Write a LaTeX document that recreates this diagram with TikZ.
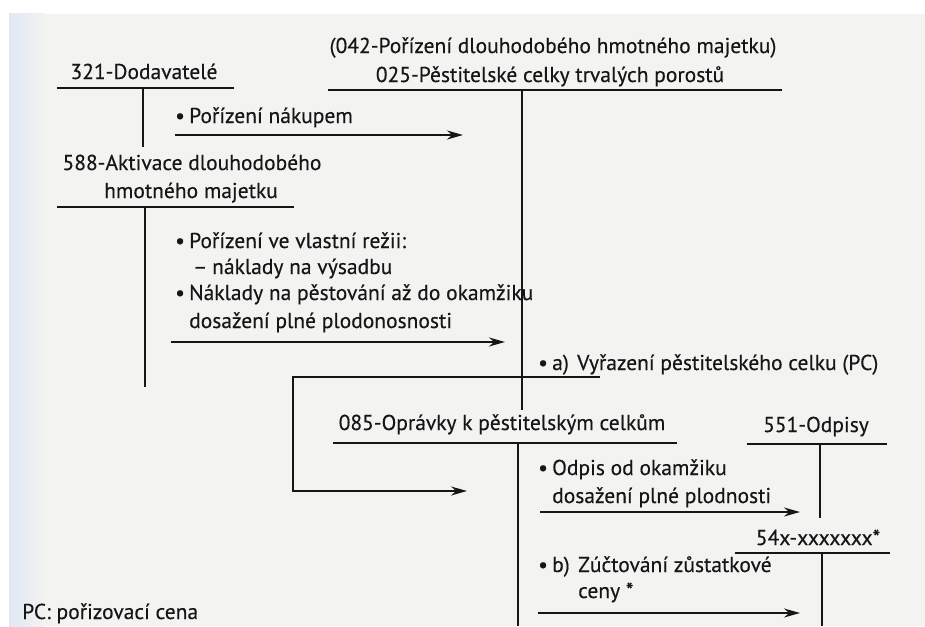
\documentclass[tikz,border=0pt]{standalone}
\usepackage{fontspec}
\setmainfont{PT Sans}
\usepackage{tikz}
\usetikzlibrary{arrows.meta,positioning}
\definecolor{pagegray}{RGB}{243,243,242}
\definecolor{edgeblue}{RGB}{224,232,243}
\definecolor{ink}{RGB}{22,22,22}
\newcommand{\bul}{\makebox[14pt][l]{•}}
\tikzstyle{arrow} = [line width=1.8pt,-{Stealth[length=16pt,width=9pt]},color=ink]
\tikzstyle{account} = [line width=1.8pt,color=ink]
\tikzstyle{lbl} = [anchor=base west,inner sep=0pt,text=ink,font=\fontsize{21.5}{26}\selectfont\addfontfeature{FakeBold=0.3}]
\tikzstyle{title} = [lbl,anchor=base]

\begin{document}
\begin{tikzpicture}[x=1pt,y=-1pt]
    % Page
    \useasboundingbox (0,0) rectangle (925,626);
    \fill[white] (0,0) rectangle (925,626);
    \fill[pagegray] (9,14) rectangle (925,626);
    \shade[left color=edgeblue, right color=pagegray] (9,14) rectangle (45,626);

    % Account titles
    \node[title] (t042) at (553,53) {(042-Pořízení dlouhodobého hmotného majetku)};
    \node[title] (t025) at (550,82) {025-Pěstitelské celky trvalých porostů};
    \node[title] (t321) at (144,79) {321-Dodavatelé};
    \node[title] (t588a) at (192,170) {588-Aktivace dlouhodobého};
    \node[title] (t588b) at (191,198) {hmotného majetku};
    \node[title] (t085) at (502,430) {085-Oprávky k pěstitelským celkům};
    \node[title] (t551) at (816,432) {551-Odpisy};
    \node[title] (t54x) at (818,545) {54x-xxxxxxx*};

    % T-accounts
    \draw[account] (57,88) -- (234,88) (143,88) -- (143,147);
    \draw[account] (328,90) -- (782,90) (522,90) -- (522,410);
    \draw[account] (57,207) -- (294,207) (145,207) -- (145,387);
    \draw[account] (333,443) -- (677,443) (518,443) -- (518,626);
    \draw[account] (747,444) -- (887,444) (820,444) -- (820,518);
    \draw[account] (735,553) -- (890,553) (822,553) -- (822,626);

    % Entries
    \node[lbl] (nakup) at (175,123) {\bul Pořízení nákupem};
    \node[lbl] (rezie) at (175,248) {\bul Pořízení ve vlastní režii:};
    \node[lbl] (vysadba) at (193,274) {\makebox[19pt][l]{–}náklady na výsadbu};
    \node[lbl] (pestovani) at (175,300) {\bul Náklady na pěstování až do okamžiku};
    \node[lbl] (pestovani2) at (189,328) {dosažení plné plodonosnosti};
    \node[lbl] (vyrazeni) at (538,370) {\bul\makebox[25pt][l]{a)}Vyřazení pěstitelského celku (PC)};
    \node[lbl] (odpis) at (538,475) {\bul Odpis od okamžiku};
    \node[lbl] (odpis2) at (552,503) {dosažení plné plodnosti};
    \node[lbl] (zustatek) at (538,572) {\bul\makebox[26pt][l]{b)}Zúčtování zůstatkové};
    \node[lbl] (zustatek2) at (578,598) {ceny *};
    \node[lbl] (pc) at (22,619) {PC: pořizovací cena};

    % Arrow ends
    \coordinate (nakup-from) at (175,135);
    \coordinate (nakup-to) at (463,135);
    \coordinate (rezie-from) at (171,342);
    \coordinate (rezie-to) at (505,342);
    \coordinate (vyrazeni-from) at (600,377);
    \coordinate (vyrazeni-to) at (467,491);
    \coordinate (odpis-from) at (540,512);
    \coordinate (odpis-to) at (800,512);
    \coordinate (zustatek-from) at (538,613);
    \coordinate (zustatek-to) at (800,613);

    % Arrows
    \draw[arrow] (nakup-from) -- (nakup-to);
    \draw[arrow] (rezie-from) -- (rezie-to);
    \draw[arrow] (vyrazeni-from) -- (293,377) -- (293,491) -- (vyrazeni-to);
    \draw[arrow] (odpis-from) -- (odpis-to);
    \draw[arrow] (zustatek-from) -- (zustatek-to);
\end{tikzpicture}
\end{document}
